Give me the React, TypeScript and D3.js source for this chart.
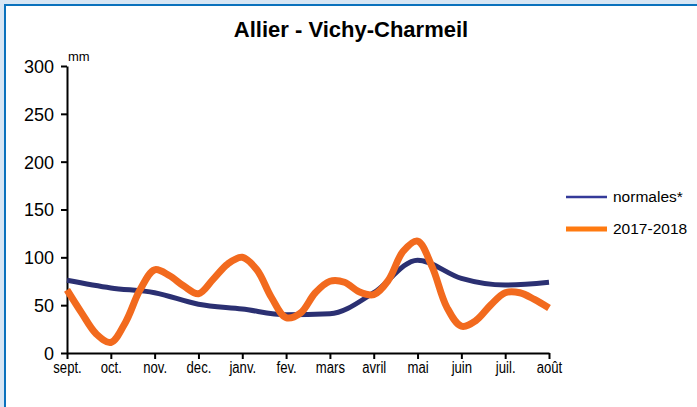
import React, { useEffect, useRef } from "react";
import * as d3 from "d3";

const months = ["sept.", "oct.", "nov.", "dec.", "janv.", "fev.", "mars", "avril", "mai", "juin", "juil.", "août"];
const yTicks = [0, 50, 100, 150, 200, 250, 300];

// normales mensuelles (mm)
const normales = [76, 68, 63, 51, 46, 40, 41, 63, 97, 78, 71, 74];

// 2017-2018 par décade (3 valeurs par mois)
const saison = [
  66, 42, 20, 11, 32, 66, 87, 81, 70, 62, 77, 93,
  100, 87, 58, 37, 42, 63, 75, 74, 64, 61, 76, 106,
  117, 90, 48, 28, 34, 50, 63, 63, 56, 47,
];

const W = 697;
const H = 407;
const margin = { top: 66, left: 67, right: 148, bottom: 54 };
const font = "Liberation Sans, Arial, sans-serif";

const App = () => {
  const svgRef = useRef<SVGSVGElement>(null);

  useEffect(() => {
    const svg = d3.select(svgRef.current);
    svg.selectAll("*").remove();

    const x = d3.scaleLinear().domain([0, 11]).range([margin.left, W - margin.right]);
    const y = d3.scaleLinear().domain([0, 300]).range([H - margin.bottom, margin.top]);

    // cadre
    svg.append("rect").attr("width", W).attr("height", H).attr("fill", "#d7e6f4");
    svg
      .append("rect")
      .attr("x", 5)
      .attr("y", 5)
      .attr("width", W + 10)
      .attr("height", H + 10)
      .attr("fill", "#fff")
      .attr("stroke", "#0a72bd")
      .attr("stroke-width", 2);

    svg
      .append("text")
      .attr("x", 351)
      .attr("y", 37)
      .attr("text-anchor", "middle")
      .style("font-family", font)
      .style("font-weight", "bold")
      .style("font-size", "22px")
      .text("Allier - Vichy-Charmeil");

    // axe y
    const yAxis = svg
      .append("g")
      .attr("transform", `translate(${margin.left},0)`)
      .call(d3.axisLeft(y).tickValues(yTicks).tickSize(6).tickSizeOuter(0));
    yAxis.select(".domain").attr("stroke", "#000").attr("stroke-width", 2);
    yAxis.selectAll(".tick line").attr("stroke", "#000").attr("stroke-width", 2);
    yAxis
      .selectAll(".tick text")
      .attr("x", -13)
      .attr("dy", "0.36em")
      .style("font-family", font)
      .style("font-size", "18px")
      .attr("fill", "#000");

    svg
      .append("text")
      .attr("x", margin.left + 1)
      .attr("y", margin.top - 5)
      .style("font-family", font)
      .style("font-size", "13px")
      .text("mm");

    // axe x
    const xAxis = svg
      .append("g")
      .attr("transform", `translate(0,${y(0)})`)
      .call(
        d3
          .axisBottom(x)
          .tickValues(d3.range(12))
          .tickFormat((d) => months[d as number])
          .tickSize(6)
          .tickSizeOuter(0)
      );
    xAxis.select(".domain").attr("stroke", "#000").attr("stroke-width", 2);
    xAxis.selectAll(".tick line").attr("stroke", "#000").attr("stroke-width", 2);
    xAxis
      .selectAll(".tick text")
      .attr("y", 9)
      .attr("transform", "scale(0.82,1)")
      .style("font-family", font)
      .style("font-size", "16px")
      .attr("fill", "#000");

    // courbes
    const lineN = d3
      .line<number>()
      .x((d, i) => x(i))
      .y((d) => y(d))
      .curve(d3.curveMonotoneX);

    const lineS = d3
      .line<number>()
      .x((d, i) => x(i / 3))
      .y((d) => y(d))
      .curve(d3.curveCatmullRom.alpha(0.5));

    svg
      .append("path")
      .datum(normales)
      .attr("d", lineN)
      .attr("fill", "none")
      .attr("stroke", "#2b3072")
      .attr("stroke-width", 5);

    svg
      .append("path")
      .datum(saison)
      .attr("d", lineS)
      .attr("fill", "none")
      .attr("stroke", "#f26a1e")
      .attr("stroke-width", 7)
      .attr("stroke-linejoin", "round");

    // légende
    const legend = [
      { label: "normales*", color: "#343a99", width: 2.5, y: 197 },
      { label: "2017-2018", color: "#ff7a10", width: 5, y: 229 },
    ];
    const lg = svg.append("g");
    legend.forEach((l) => {
      lg.append("line")
        .attr("x1", 566)
        .attr("x2", 607)
        .attr("y1", l.y)
        .attr("y2", l.y)
        .attr("stroke", l.color)
        .attr("stroke-width", l.width);
      lg.append("text")
        .attr("x", 613)
        .attr("y", l.y + 5)
        .style("font-family", font)
        .style("font-size", "15.5px")
        .text(l.label);
    });
  }, []);

  return (
    <svg
      ref={svgRef}
      width={W}
      height={H}
      style={{ position: "absolute", left: 0, top: 0, display: "block" }}
    />
  );
};

export default App;
